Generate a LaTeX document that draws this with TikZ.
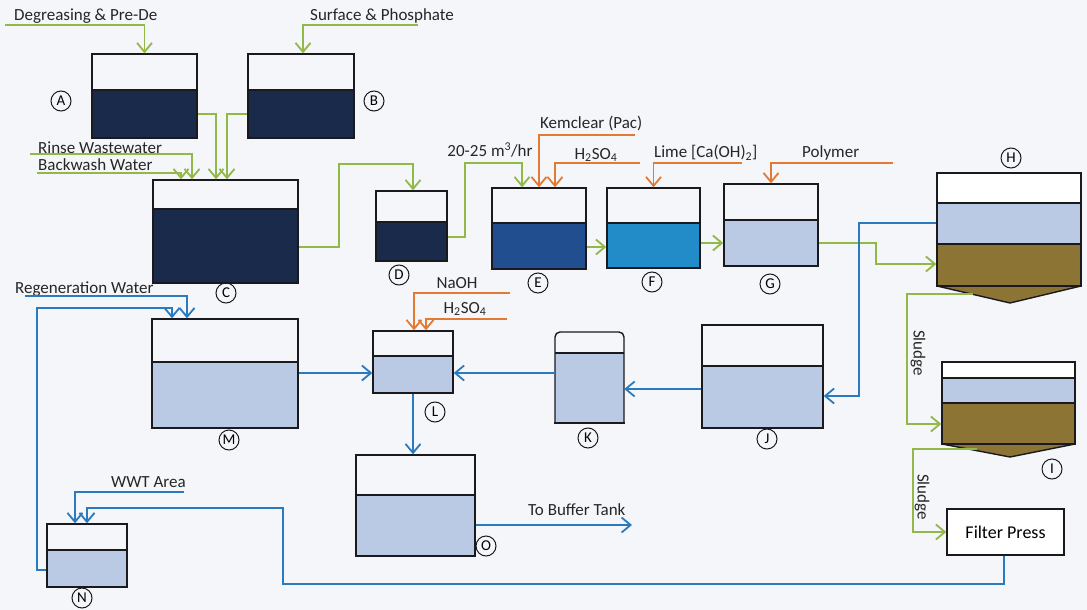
\documentclass[tikz,border=0pt]{standalone}
\usepackage{fontspec}
\setmainfont{Carlito}
\usetikzlibrary{arrows.meta,calc}
\definecolor{bgc}{RGB}{244,246,249}
\definecolor{gline}{RGB}{146,184,72}
\definecolor{oline}{RGB}{226,122,52}
\definecolor{bline}{RGB}{42,122,192}
\definecolor{navyw}{RGB}{26,42,74}
\definecolor{eblue}{RGB}{32,78,142}
\definecolor{fblue}{RGB}{34,140,200}
\definecolor{lightw}{RGB}{186,202,228}
\definecolor{brownw}{RGB}{140,116,52}
\definecolor{tk}{RGB}{25,25,30}
\newcommand\mytank[7]{%
  \fill[#7] (#2,#6) rectangle (#4,#5);
  \draw[tk,line width=1.4pt] (#2,#6) -- (#4,#6);
  \node[tankbox,minimum width={#4pt-#2pt},minimum height={#5pt-#3pt}] (#1) at ({(#2+#4)/2},{(#3+#5)/2}) {};
}
\tikzset{
  tankbox/.style={draw=tk,line width=1.4pt,inner sep=0,rectangle},
  tip/.style={-{Straight Barb[length=9pt,width=15pt,line width=1.8pt]}},
  g/.style={draw=gline,line width=1.9pt,tip},
  o/.style={draw=oline,line width=1.7pt,tip},
  b/.style={draw=bline,line width=1.7pt,tip},
  txt/.style={font=\fontsize{17}{20}\selectfont,inner sep=0,text=black!85},
  lbl/.style={circle,draw=tk,line width=1pt,inner sep=0,minimum size=20pt,font=\fontsize{15}{15}\selectfont},
}
\begin{document}
\begin{tikzpicture}[x=1pt,y=-1pt]
\fill[bgc] (0,0) rectangle (1087,610);
\useasboundingbox (0,0) rectangle (1087,610);

% tanks
\mytank{A}{92}{54}{197}{138}{90}{navyw}
\mytank{B}{248}{54}{354}{138}{90}{navyw}
\mytank{C}{153}{180}{298}{283}{209}{navyw}
\mytank{D}{376}{191}{447}{261}{222}{navyw}
\mytank{E}{492}{188}{586}{269}{223}{eblue}
\mytank{F}{607}{188}{700}{268}{223}{fblue}
\mytank{G}{724}{184}{818}{266}{220}{lightw}
\mytank{J}{702}{325}{823}{428}{366}{lightw}
\mytank{L}{373}{331}{453}{393}{356}{lightw}
\mytank{M}{152}{319}{298}{428}{362}{lightw}
\mytank{N}{47}{524}{127}{587}{550}{lightw}
\mytank{O}{356}{455}{475}{556}{495}{lightw}

% K with rounded top
\fill[lightw] (555,353) rectangle (624,423);
\draw[tk,line width=1.4pt] (555,353) -- (624,353);
\node[inner sep=0,minimum width=69pt,minimum height=91pt] (K) at (589.5,377.5) {};
\draw[tk,line width=1.4pt,rounded corners=5pt,line cap=rect] (555,423) -- (555,332) -- (624,332) -- (624,423);
\draw[tk,line width=1.4pt,line cap=rect] (555,423) -- (624,423);

% H clarifier
\fill[white] (937,173) rectangle (1081,203);
\fill[lightw] (937,203) rectangle (1081,244);
\fill[brownw] (937,244) rectangle (1081,286);
\fill[brownw] (937,286) -- (1081,286) -- (1010,303) -- cycle;
\draw[tk,line width=1.4pt] (937,286) -- (1010,303) -- (1081,286);
\draw[tk,line width=1.4pt] (937,203) -- (1081,203) (937,244) -- (1081,244);
\draw[tk,line width=2.6pt] (937,286) -- (1081,286);
\node[tankbox,minimum width=144pt,minimum height=113pt] (H) at (1009,229.5) {};

% I thickener
\fill[white] (942,362) rectangle (1075,378);
\fill[lightw] (942,378) rectangle (1075,403);
\fill[brownw] (942,403) rectangle (1075,444);
\fill[brownw] (942,444) -- (1075,444) -- (1010,457) -- cycle;
\draw[tk,line width=1.4pt] (942,444) -- (1010,457) -- (1075,444);
\draw[tk,line width=1.4pt] (942,378) -- (1075,378) (942,403) -- (1075,403);
\draw[tk,line width=2.4pt] (942,444) -- (1075,444);
\node[tankbox,minimum width=133pt,minimum height=82pt] (I) at (1008.5,403) {};

% Filter press
\node[tankbox,fill=white,minimum width=117pt,minimum height=46pt,font=\fontsize{18}{20}\selectfont,text=black] (FP) at (1005.5,532) {Filter Press};

% circled labels
\node[lbl] (lA) at (61,101) {A};
\node[lbl] (lB) at (374,101) {B};
\node[lbl] (lC) at (226,293) {C};
\node[lbl] (lD) at (399,275) {D};
\node[lbl] (lE) at (538,283) {E};
\node[lbl] (lF) at (652,282) {F};
\node[lbl] (lG) at (770,284) {G};
\node[lbl] (lH) at (1011,158) {H};
\node[lbl] (lI) at (1052,469) {I};
\node[lbl] (lJ) at (767,439) {J};
\node[lbl] (lK) at (588,438) {K};
\node[lbl] (lL) at (435,412) {L};
\node[lbl] (lM) at (229,440) {M};
\node[lbl] (lN) at (82,598) {N};
\node[lbl] (lO) at (486,546) {O};

% texts
\node[txt,anchor=west] (tDeg) at (14,16) {Degreasing \& Pre-De};
\node[txt,anchor=west] (tSur) at (310,16) {Surface \& Phosphate};
\node[txt,anchor=west] (tRin) at (38,148) {Rinse Wastewater};
\node[txt,anchor=west] (tBack) at (38,165) {Backwash Water};
\node[txt] (tFlow) at (490,150) {20-25 m\textsuperscript{3}/hr};
\node[txt,anchor=west] (tKem) at (540,123) {Kemclear (Pac)};
\node[txt] (tH1) at (596,155) {H\textsubscript{2}SO\textsubscript{4}};
\node[txt,anchor=west] (tLime) at (654,153) {Lime [Ca(OH)\textsubscript{2}]};
\node[txt,anchor=west] (tPoly) at (802,153) {Polymer};
\node[txt,anchor=west] (tReg) at (15,289) {Regeneration Water};
\node[txt] (tNa) at (457,283) {NaOH};
\node[txt] (tH2) at (465,309) {H\textsubscript{2}SO\textsubscript{4}};
\node[txt,anchor=west] (tWWT) at (111,482) {WWT Area};
\node[txt,anchor=west] (tBuf) at (528,510) {To Buffer Tank};
\node[txt,rotate=-90] (tSl1) at (918,353) {Sludge};
\node[txt,rotate=-90] (tSl2) at (922,497) {Sludge};

% free ends
\coordinate (degS) at (5,25);
\coordinate (surS) at (418,25);
\coordinate (rinS) at (30,154);
\coordinate (bacS) at (37,173);
\coordinate (kemS) at (635,135);
\coordinate (h1S) at (640,163);
\coordinate (limS) at (742,163);
\coordinate (polS) at (893,163);
\coordinate (naS) at (510,293);
\coordinate (h2S) at (507,319);
\coordinate (regS) at (25,296);
\coordinate (wwtS) at (184,492);
\coordinate (bufE) at (632,525);
\coordinate (Hout) at (973,294);
\coordinate (Iout) at (977,449);

% green
\draw[g] (degS) -| (A.north);
\draw[g] (surS) -| (B.north -| 303,0);
\draw[g] (A.east |- 0,114) -| (C.north -| 216,0);
\draw[g] (B.west |- 0,114) -| (C.north -| 227,0);
\draw[g] (rinS) -| (C.north -| 192,0);
\draw[g] (bacS) -| (C.north -| 181,0);
\draw[g] (C.east |- 0,247) -- (339,247) -- (339,164) -| (D.north -| 413,0);
\draw[g] (D.east |- 0,237) -- (465,237) -- (465,163) -| (E.north -| 522,0);
\draw[g] (E.east |- 0,247) -- (F.west |- 0,247);
\draw[g] (F.east |- 0,243) -- (G.west |- 0,243);
\draw[g] (G.east |- 0,243) -- (876,243) |- (H.west |- 0,264);
\draw[g] (Hout) -- (907,294) |- (I.west |- 0,424);
\draw[g] (Iout) -- (913,449) |- (FP.west);

% orange
\draw[o] (kemS) -| (E.north -| 539,0);
\draw[o] (h1S) -| (E.north -| 555,0);
\draw[o] (limS) -| (F.north);
\draw[o] (polS) -| (G.north);
\draw[o] (naS) -| (L.north -| 414,0);
\draw[o] (h2S) -| (L.north -| 426,0);

% blue
\draw[b] (H.west |- 0,223) -- (859,223) |- (J.east |- 0,396);
\draw[b] (J.west |- 0,389) -- (K.east |- 0,389);
\draw[b] (K.west |- 0,373) -- (L.east |- 0,373);
\draw[b] (M.east |- 0,373) -- (L.west |- 0,373);
\draw[b] (L.south) -- (O.north -| L.south);
\draw[b] (O.east |- 0,525) -- (bufE);
\draw[b] (FP.south -| 1004,0) -- (1004,584) -- (283,584) -- (283,508) -| (N.north -| 87,0);
\draw[b] (wwtS) -| (N.north -| 75,0);
\draw[b] (N.west |- 0,570) -- (37,570) -- (37,308) -| (M.north -| 172,0);
\draw[b] (regS) -| (M.north -| 187,0);
\end{tikzpicture}
\end{document}
